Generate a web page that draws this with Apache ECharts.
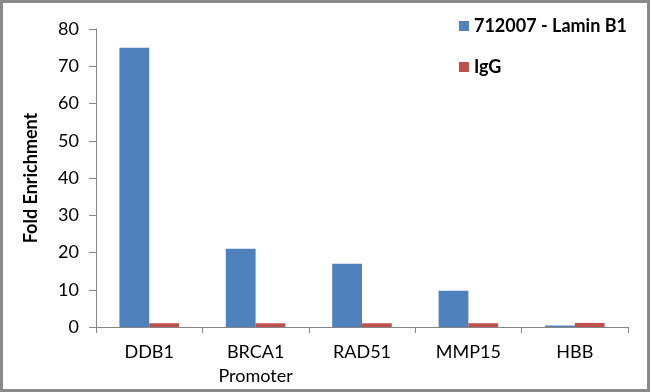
<!DOCTYPE html>
<html>
<head>
<meta charset="utf-8">
<script src="https://cdn.jsdelivr.net/npm/echarts@6/dist/echarts.min.js"></script>
<style>html,body{margin:0;padding:0;background:#fff;}#c{width:650px;height:392px;}</style>
</head>
<body>
<div id="c"></div>
<script>
const categories = ['DDB1', 'BRCA1\nPromoter', 'RAD51', 'MMP15', 'HBB'];
const laminValues = [75, 21, 17, 9.7, 0.4];
const iggValues = [1, 1, 1, 1, 1.1];
const seriesNames = ['712007 - Lamin B1', 'IgG'];
const yTicks = { min: 0, max: 80, interval: 10 };

const FONT = 'Lato';
const chart = echarts.init(document.getElementById('c'), null, { renderer: 'canvas' });
chart.setOption({
  backgroundColor: '#ffffff',
  animation: false,
  textStyle: { fontFamily: FONT },
  graphic: [{
    type: 'rect',
    shape: { x: 1.5, y: 1.5, width: 647, height: 389 },
    style: { fill: 'none', stroke: '#8a8a8a', lineWidth: 3 },
    z: 100
  }],
  legend: {
    orient: 'vertical',
    right: 18,
    top: 12,
    itemWidth: 10,
    itemHeight: 10,
    itemGap: 23,
    icon: 'rect',
    textStyle: { fontFamily: FONT, fontWeight: 'bold', fontSize: 18, color: '#000' },
    data: seriesNames
  },
  grid: { left: 96, right: 22, top: 29, bottom: 65, containLabel: false },
  xAxis: {
    type: 'category',
    data: categories,
    axisLine: { lineStyle: { color: '#868686', width: 1 } },
    axisTick: { show: true, inside: false, length: 6, alignWithLabel: false, lineStyle: { color: '#868686' } },
    axisLabel: { fontFamily: FONT, fontSize: 18, color: '#000', margin: 13, lineHeight: 24, interval: 0 },
    splitLine: { show: false }
  },
  yAxis: {
    type: 'value',
    min: yTicks.min,
    max: yTicks.max,
    interval: yTicks.interval,
    name: 'Fold Enrichment',
    nameLocation: 'middle',
    nameGap: 56,
    nameRotate: 90,
    nameTextStyle: { fontFamily: FONT, fontWeight: 'bold', fontSize: 18, color: '#000' },
    axisLine: { show: true, lineStyle: { color: '#868686', width: 1 } },
    axisTick: { show: true, inside: false, length: 7, lineStyle: { color: '#868686' } },
    axisLabel: { fontFamily: FONT, fontSize: 18, color: '#000', margin: 17 },
    splitLine: { show: false }
  },
  series: [
    {
      name: seriesNames[0], type: 'bar', data: laminValues,
      itemStyle: { color: '#4f81bd' },
      barGap: '0%', barCategoryGap: '44%'
    },
    {
      name: seriesNames[1], type: 'bar', data: iggValues,
      itemStyle: { color: '#c0504d' },
      barGap: '0%', barCategoryGap: '44%'
    }
  ]
});
</script>
</body>
</html>
